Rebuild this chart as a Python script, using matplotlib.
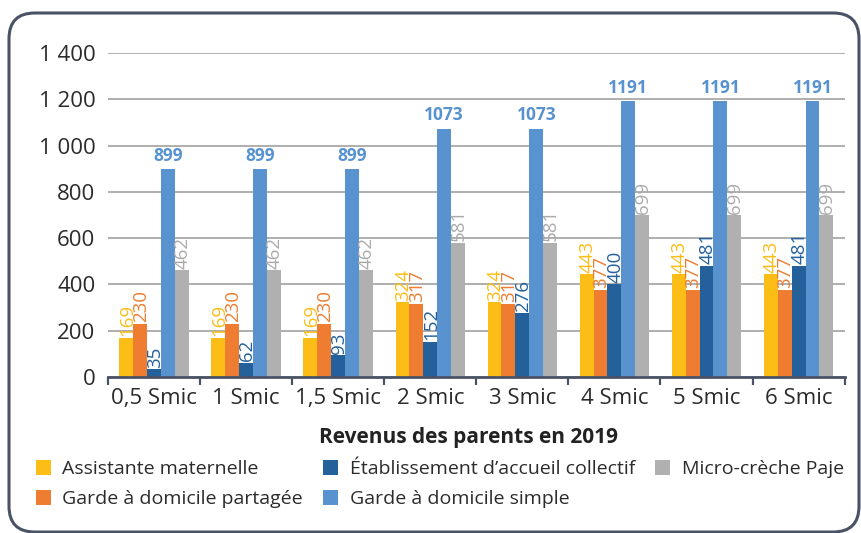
import matplotlib
matplotlib.use("Agg")
import matplotlib.pyplot as plt
import numpy as np
from matplotlib.patches import FancyBboxPatch

plt.rcParams["font.family"] = ["Open Sans", "DejaVu Sans"]

categories = ["0,5 Smic", "1 Smic", "1,5 Smic", "2 Smic", "3 Smic", "4 Smic", "5 Smic", "6 Smic"]
series_names = [
    "Assistante maternelle",
    "Garde à domicile partagée",
    "Établissement d’accueil collectif",
    "Garde à domicile simple",
    "Micro-crèche Paje",
]
assistante = [169, 169, 169, 324, 324, 443, 443, 443]
garde_partagee = [230, 230, 230, 317, 317, 377, 377, 377]
etablissement = [35, 62, 93, 152, 276, 400, 481, 481]
garde_simple = [899, 899, 899, 1073, 1073, 1191, 1191, 1191]
micro_creche = [462, 462, 462, 581, 581, 699, 699, 699]
yticks = [0, 200, 400, 600, 800, 1000, 1200, 1400]
ytick_labels = ["0", "200", "400", "600", "800", "1 000", "1 200", "1 400"]

values = [assistante, garde_partagee, etablissement, garde_simple, micro_creche]
colors = ["#FBBD16", "#EE7D31", "#24619A", "#5893D0", "#B0B0B0"]
label_colors = ["#FBBD16", "#EE7D31", "#24619A", "#5893D0", "#ABABAB"]

fig = plt.figure(figsize=(8.61, 5.33), dpi=100)
ax = fig.add_axes([0.1254, 0.2927, 0.8556, 0.6079])

x = np.arange(len(categories))
width = 0.151
for i, (vals, col, lcol, name) in enumerate(zip(values, colors, label_colors, series_names)):
    pos = x + (i - 2) * width
    ax.bar(pos, vals, width, color=col, label=name, zorder=2)
    for p, v in zip(pos, vals):
        if i == 3:
            ax.annotate(str(v), (p, v), xytext=(0, 3), textcoords="offset points",
                        ha="center", va="bottom", fontsize=12.5, fontweight="bold",
                        color=lcol, zorder=4)
        else:
            ax.annotate(str(v), (p, v), xytext=(0.5, 1), textcoords="offset points",
                        ha="center", va="bottom", rotation=90, fontsize=13.5,
                        color=lcol, zorder=3)

ax.set_xlim(-0.5, len(categories) - 0.5)
ax.set_ylim(0, 1400)
ax.set_yticks(yticks)
ax.set_yticklabels(ytick_labels, fontsize=16, color="#2b2b2b")
ax.tick_params(axis="y", length=0, pad=9)
ax.yaxis.grid(True, color="#A8A8A8", linewidth=1.3, zorder=0)
ax.set_axisbelow(True)

ax.set_xticks(x)
ax.set_xticklabels(categories, fontsize=16, color="#2b2b2b")
ax.set_xticks(np.arange(-0.5, len(categories)), minor=True)
ax.tick_params(axis="x", which="major", length=0, pad=8)
ax.tick_params(axis="x", which="minor", length=6, width=1.6, color="#4A5366", direction="out")

for side in ["top", "right", "left"]:
    ax.spines[side].set_visible(False)
ax.spines["bottom"].set_color("#4A5366")
ax.spines["bottom"].set_linewidth(2)
ax.spines["bottom"].set_zorder(5)

fig.text(0.5436, 0.180, "Revenus des parents en 2019", ha="center", va="center",
         fontsize=15, fontweight="bold", color="#222222")

leg = fig.legend(loc="upper left", bbox_to_anchor=(0.042, 0.137), ncol=3,
                 frameon=False, fontsize=14, handlelength=0.75, handleheight=0.8,
                 handletextpad=0.6, columnspacing=1.05, labelspacing=0.6,
                 borderpad=0, borderaxespad=0)
for t in leg.get_texts():
    t.set_color("#2b2b2b")

frame = FancyBboxPatch((9 / 861, 1 / 533), 850 / 861, 519 / 533,
                       boxstyle="round,pad=0,rounding_size=0.03",
                       transform=fig.transFigure, fill=False,
                       ec="#4A5366", lw=2.2, clip_on=False,
                       mutation_aspect=861 / 533)
fig.patches.append(frame)

fig.savefig("out.png", dpi=100)
